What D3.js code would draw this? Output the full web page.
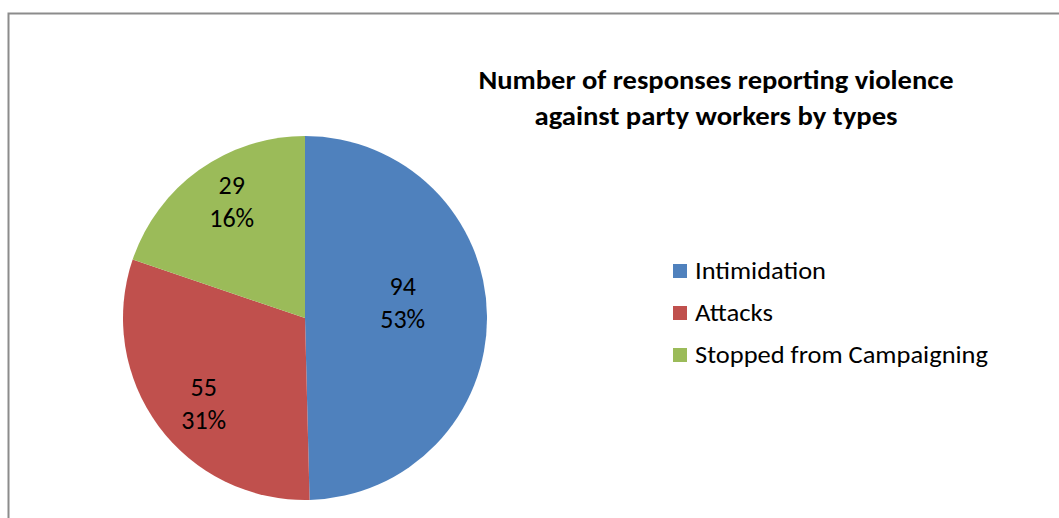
<!DOCTYPE html>
<html>
<head>
<meta charset="utf-8">
<script src="https://cdn.jsdelivr.net/npm/d3@7"></script>
<style>
  html, body { margin: 0; padding: 0; background: #ffffff; }
  svg { display: block; }
  text { font-family: Carlito, Calibri, "Open Sans", sans-serif; fill: #000; }
</style>
</head>
<body>
<svg id="chart" width="1059" height="518"></svg>
<script>
// ---- data ----
const categories = ["Intimidation", "Attacks", "Stopped from Campaigning"];
const counts = [94, 55, 29];                    // value labels shown in the slices
const percentLabels = ["53%", "31%", "16%"];    // percentage labels shown in the slices
// slice shares (in %) as drawn in the picture
const sliceShares = [49.6, 30.6, 19.8];
const titleLines = ["Number of responses reporting violence", "against party workers by types"];
const colors = ["#4F81BD", "#C0504D", "#9BBB59"];

// ---- layout ----
const W = 1059, H = 518;
const cx = 305, cy = 318, R = 182;
const labelRadiusFactor = [0.537, 0.732, 0.748];
const labelNudge = [[0, -13], [6, 8], [6, -4]];

const svg = d3.select("#chart");

// frame
svg.append("path")
  .attr("d", `M8.5,${H + 2} V13.5 H${W + 2}`)
  .attr("fill", "none").attr("stroke", "#8c8c8c").attr("stroke-width", 2);

// pie
const pie = d3.pie().sort(null).value(d => d.share);
const rows = categories.map((c, i) => ({ cat: c, share: sliceShares[i], count: counts[i], pct: percentLabels[i], color: colors[i] }));
const arcs = pie(rows);
const arc = d3.arc().innerRadius(0).outerRadius(R);

const g = svg.append("g").attr("transform", `translate(${cx},${cy})`);
g.selectAll("path.slice").data(arcs).enter().append("path")
  .attr("class", "slice")
  .attr("d", arc)
  .attr("fill", d => d.data.color)
  .attr("stroke", "none");

// slice labels
arcs.forEach((d, i) => {
  const a = (d.startAngle + d.endAngle) / 2;
  const r = R * labelRadiusFactor[i];
  const x = Math.sin(a) * r + labelNudge[i][0];
  const y = -Math.cos(a) * r + labelNudge[i][1];
  const t = g.append("text")
    .attr("text-anchor", "middle")
    .attr("font-size", 26);
  t.append("tspan").attr("x", x).attr("y", y - 9).text(d.data.count);
  t.append("tspan").attr("x", x).attr("y", y + 24).text(d.data.pct);
});

// title
const titleX = 716;
const titleBase = [89, 125];
const titleWidths = [475, 363];
titleLines.forEach((line, i) => {
  svg.append("text")
    .attr("x", titleX).attr("y", titleBase[i])
    .attr("text-anchor", "middle")
    .attr("font-size", 27).attr("font-weight", "bold")
    .attr("textLength", titleWidths[i]).attr("lengthAdjust", "spacingAndGlyphs")
    .text(line);
});

// legend
const legendX = 673, legendBase = 279, legendStep = 42;
const legendWidths = [131, 78, 293];
const lg = svg.append("g");
categories.forEach((c, i) => {
  const yb = legendBase + i * legendStep;
  lg.append("rect")
    .attr("x", legendX).attr("y", yb - 15)
    .attr("width", 14).attr("height", 14)
    .attr("fill", colors[i]);
  lg.append("text")
    .attr("x", legendX + 22).attr("y", yb)
    .attr("font-size", 25)
    .attr("textLength", legendWidths[i]).attr("lengthAdjust", "spacingAndGlyphs")
    .text(c);
});
</script>
</body>
</html>
